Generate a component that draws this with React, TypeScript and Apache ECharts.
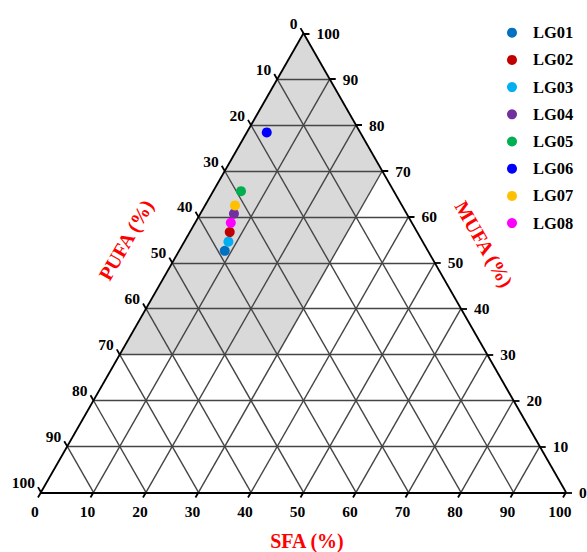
import React, { useEffect, useRef } from "react";
import * as echarts from "echarts";

// Sample groups and their fatty-acid composition (%)
const groups = ["LG01", "LG02", "LG03", "LG04", "LG05", "LG06", "LG07", "LG08"];
const sfaValues = [8.7, 7.6, 8.4, 6.4, 5.3, 3.8, 5.7, 6.8];
const mufaValues = [52.6, 56.7, 54.6, 60.7, 65.6, 78.4, 62.5, 58.7];
const pufaValues = [38.7, 35.7, 37.0, 32.9, 29.1, 17.8, 31.8, 34.5];
const groupColors = ["#0070c0", "#c00000", "#00b0f0", "#7030a0", "#00b050", "#0000ff", "#ffc000", "#ff00ff"];

// Tick values shared by the three ternary axes
const tickValues = [0, 10, 20, 30, 40, 50, 60, 70, 80, 90, 100];

// Highlighted region (SFA <= 30, MUFA >= 30), given as ternary corners
const shadeSFA = [0, 30, 30, 0];
const shadeMUFA = [100, 70, 30, 30];

const SERIF = '"Liberation Serif", "Times New Roman", serif';

// Ternary (SFA, MUFA) -> cartesian data coordinates
const toXY = (sfa: number, mufa: number): [number, number] => [sfa + mufa / 2, mufa];

export default function App() {
  const ref = useRef<HTMLDivElement>(null);

  useEffect(() => {
    if (!ref.current) return;
    const chart = echarts.init(ref.current, undefined, { renderer: "svg" });

    const inner = [10, 20, 30, 40, 50, 60, 70, 80, 90];
    const gridLines: any[] = [];
    inner.forEach((v) => {
      // constant MUFA
      gridLines.push({ coords: [toXY(0, v), toXY(100 - v, v)] });
      // constant SFA
      gridLines.push({ coords: [toXY(v, 0), toXY(v, 100 - v)] });
      // constant PUFA
      gridLines.push({ coords: [toXY(100 - v, 0), toXY(0, 100 - v)] });
    });

    const edges = [
      { coords: [toXY(0, 0), toXY(100, 0)] },
      { coords: [toXY(100, 0), toXY(0, 100)] },
      { coords: [toXY(0, 100), toXY(0, 0)] },
    ];

    const tdx = 0.57;
    const tdy = 1.13;
    const ticks: any[] = [];
    tickValues.forEach((v) => {
      const b = toXY(v, 0);
      ticks.push({ coords: [b, [b[0] - tdx, b[1] - tdy]] });
      const r = toXY(100 - v, v);
      ticks.push({ coords: [r, [r[0] + 1.14, r[1]]] });
      const l = toXY(0, 100 - v);
      ticks.push({ coords: [l, [l[0] - tdx, l[1] + tdy]] });
    });

    const labelFont = `bold 15.5px ${SERIF}`;
    const makeLabelSeries = (
      points: [number, number][],
      dx: number,
      dy: number,
      align: string
    ) => ({
      type: "custom",
      coordinateSystem: "cartesian2d",
      silent: true,
      z: 6,
      data: points,
      renderItem: (params: any, api: any) => {
        const pt = api.coord([api.value(0), api.value(1)]);
        return {
          type: "text",
          x: pt[0] + dx,
          y: pt[1] + dy,
          style: {
            text: String(tickValues[params.dataIndex]),
            font: labelFont,
            fill: "#000",
            align,
            verticalAlign: "middle",
          },
        };
      },
    });

    const scatterSeries = groups.map((g, i) => ({
      name: g,
      type: "scatter",
      symbol: "circle",
      symbolSize: 10,
      z: 8,
      itemStyle: { color: groupColors[i], opacity: 1 },
      data: [toXY(sfaValues[i], mufaValues[i]).concat([pufaValues[i]])],
    }));

    chart.setOption({
      animation: false,
      backgroundColor: "#fff",
      grid: { left: 14.74, top: 10.35, width: 572.6, height: 504.9 },
      xAxis: { type: "value", min: -5, max: 104, show: false },
      yAxis: { type: "value", min: -5, max: 105, show: false },
      legend: {
        data: groups,
        orient: "vertical",
        left: 507,
        top: 23.7,
        padding: 0,
        icon: "circle",
        itemWidth: 10,
        itemHeight: 10,
        itemGap: 9.2,
        itemStyle: { opacity: 1 },
        textStyle: {
          fontFamily: SERIF,
          fontWeight: "bold",
          fontSize: 16.5,
          color: "#000",
          lineHeight: 18,
          padding: [0, 0, 0, 11],
        },
      },
      series: [
        {
          type: "custom",
          coordinateSystem: "cartesian2d",
          silent: true,
          z: 1,
          data: [0],
          renderItem: (_params: any, api: any) => ({
            type: "polygon",
            shape: {
              points: shadeSFA.map((s, i) => api.coord(toXY(s, shadeMUFA[i]))),
            },
            style: { fill: "#d9d9d9" },
          }),
        },
        {
          type: "lines",
          coordinateSystem: "cartesian2d",
          silent: true,
          z: 2,
          lineStyle: { color: "#454545", width: 1.4, opacity: 1 },
          data: gridLines,
        },
        {
          type: "lines",
          coordinateSystem: "cartesian2d",
          silent: true,
          z: 3,
          lineStyle: { color: "#000", width: 1.8, opacity: 1 },
          data: edges.concat(ticks),
        },
        makeLabelSeries(tickValues.map((v) => toXY(v, 0)), -6, 19.5, "center"),
        makeLabelSeries(tickValues.map((v) => toXY(100 - v, v)), 13, 0, "left"),
        makeLabelSeries(tickValues.map((v) => toXY(0, 100 - v)), -6, -10, "right"),
        ...scatterSeries,
      ],
      graphic: [
        {
          type: "text",
          x: 307,
          y: 541,
          style: {
            text: "SFA (%)",
            font: `bold 20px ${SERIF}`,
            fill: "#ff0000",
            align: "center",
            verticalAlign: "middle",
          },
        },
        {
          type: "text",
          x: 484,
          y: 244,
          rotation: -Math.PI / 3,
          style: {
            text: "MUFA (%)",
            font: `bold 20px ${SERIF}`,
            fill: "#ff0000",
            align: "center",
            verticalAlign: "middle",
          },
        },
        {
          type: "text",
          x: 126,
          y: 240,
          rotation: Math.PI / 3,
          style: {
            text: "PUFA (%)",
            font: `bold 20px ${SERIF}`,
            fill: "#ff0000",
            align: "center",
            verticalAlign: "middle",
          },
        },
      ],
    });

    return () => chart.dispose();
  }, []);

  return (
    <div
      ref={ref}
      style={{ position: "absolute", left: 0, top: 0, width: 587, height: 552, background: "#fff" }}
    />
  );
}
